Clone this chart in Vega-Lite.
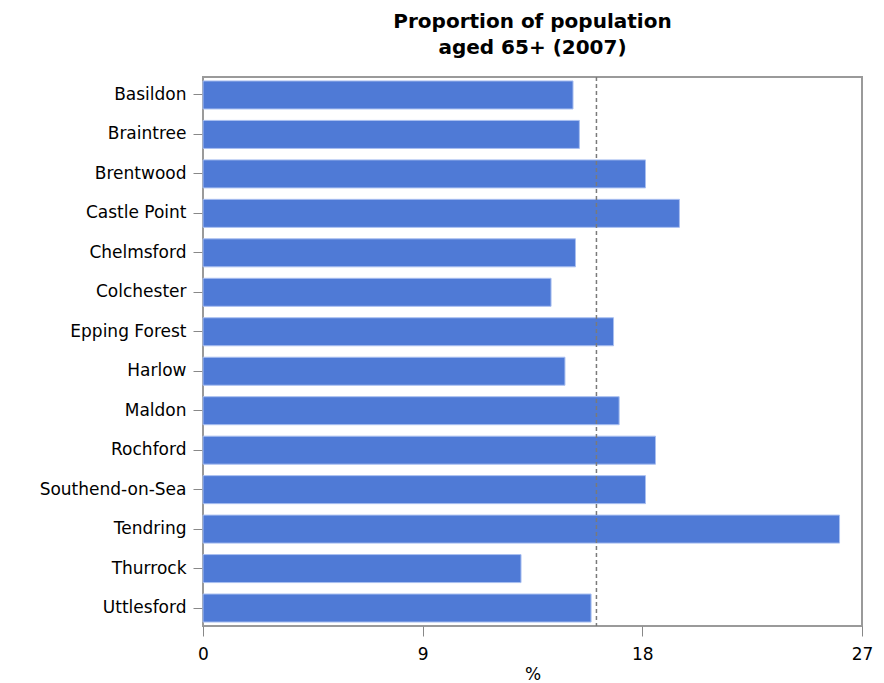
{
  "$schema": "https://vega.github.io/schema/vega-lite/v6.json",
  "width": 659,
  "height": 549,
  "autosize": {"type": "none"},
  "padding": {"left": 203, "top": 77, "right": 22, "bottom": 57},
  "background": "white",
  "config": {
    "view": {"stroke": "#9a9a9a", "strokeWidth": 2},
    "font": "DejaVu Sans"
  },
  "title": {
    "text": ["Proportion of population", "aged 65+ (2007)"],
    "font": "DejaVu Sans",
    "fontSize": 20,
    "fontWeight": "bold",
    "color": "#000000",
    "anchor": "middle",
    "offset": 18,
    "lineHeight": 26
  },
  "datasets": {
    "bars": [
      {"district": "Basildon", "pct": 15.16},
      {"district": "Braintree", "pct": 15.42},
      {"district": "Brentwood", "pct": 18.13},
      {"district": "Castle Point", "pct": 19.52},
      {"district": "Chelmsford", "pct": 15.26},
      {"district": "Colchester", "pct": 14.26},
      {"district": "Epping Forest", "pct": 16.82},
      {"district": "Harlow", "pct": 14.83},
      {"district": "Maldon", "pct": 17.05},
      {"district": "Rochford", "pct": 18.54},
      {"district": "Southend-on-Sea", "pct": 18.13},
      {"district": "Tendring", "pct": 26.08},
      {"district": "Thurrock", "pct": 13.03},
      {"district": "Uttlesford", "pct": 15.9}
    ],
    "avg": [{"avg": 16.12}]
  },
  "layer": [
    {
      "data": {"name": "bars"},
      "mark": {"type": "bar", "color": "#4f7ad6", "stroke": "#a9bff0", "strokeWidth": 1},
      "encoding": {
        "y": {
          "field": "district",
          "type": "nominal",
          "sort": null,
          "scale": {"paddingInner": 0.29, "paddingOuter": 0.1},
          "axis": {
            "title": null,
            "domain": false,
            "ticks": true,
            "tickSize": 10,
            "tickColor": "#888888",
            "labelFont": "DejaVu Sans",
            "labelFontSize": 17,
            "labelColor": "#000000",
            "labelPadding": 7
          }
        },
        "x": {
          "field": "pct",
          "type": "quantitative",
          "scale": {"domain": [0, 27], "nice": false},
          "axis": {
            "title": "%",
            "values": [0, 9, 18, 27],
            "grid": false,
            "domain": false,
            "tickSize": 10,
            "tickColor": "#888888",
            "labelFont": "DejaVu Sans",
            "labelFontSize": 17,
            "labelColor": "#000000",
            "labelPadding": 10,
            "labelFlush": false,
            "titleFont": "DejaVu Sans",
            "titleFontSize": 17,
            "titleFontWeight": "normal",
            "titleColor": "#000000",
            "titlePadding": 4
          }
        }
      }
    },
    {
      "data": {"name": "avg"},
      "mark": {"type": "rule", "color": "#7a7a7a", "strokeWidth": 1.5, "strokeDash": [4, 3]},
      "encoding": {
        "x": {"field": "avg", "type": "quantitative"}
      }
    }
  ]
}
